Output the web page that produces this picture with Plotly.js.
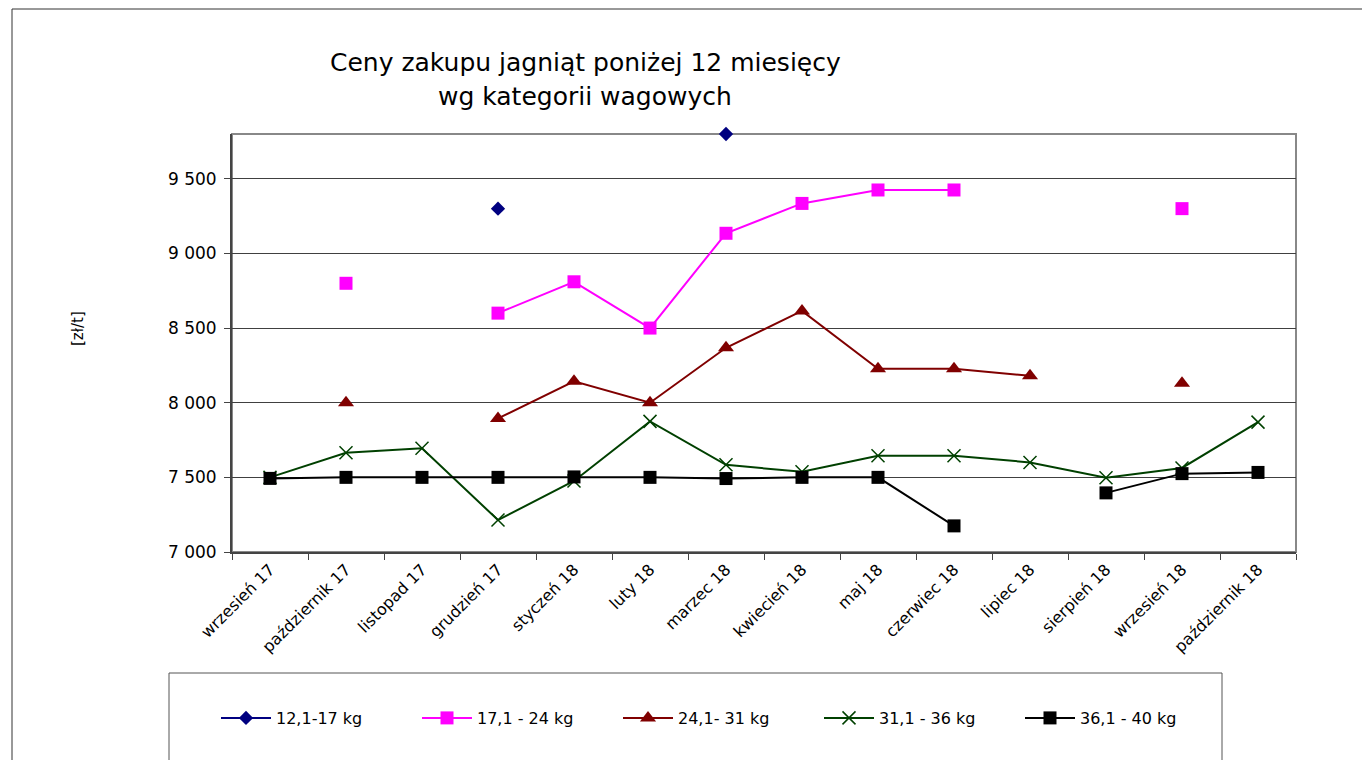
<!DOCTYPE html>
<html>
<head>
<meta charset="utf-8">
<script src="https://cdn.plot.ly/plotly-3.0.1.min.js"></script>
<style>
html,body{margin:0;padding:0;background:#fff;}
#chart{width:1362px;height:760px;}
</style>
</head>
<body>
<div id="chart"></div>
<script>
var categories = ["wrzesień 17","październik 17","listopad 17","grudzień 17","styczeń 18","luty 18","marzec 18","kwiecień 18","maj 18","czerwiec 18","lipiec 18","sierpień 18","wrzesień 18","październik 18"];

var seriesNames = ["12,1-17 kg","17,1 - 24 kg","24,1- 31 kg","31,1 - 36 kg","36,1 - 40 kg"];

var w12_17 = [null,null,null,9300,null,null,9800,null,null,null,null,null,null,null];
var w17_24 = [null,8800,null,8600,8810,8500,9135,9335,9425,9425,null,null,9300,null];
var w24_31 = [null,8000,null,7895,8143,8000,8368,8615,8228,8228,8180,null,8130,null];
var w31_36 = [7500,7665,7695,7214,7476,7875,7584,7537,7645,7645,7600,7498,7563,7870];
var w36_40 = [7493,7500,7500,7500,7503,7500,7492,7500,7500,7175,null,7396,7525,7533];

var yTitle = "[zł/t]";
var titleLine1 = "Ceny zakupu jagniąt poniżej 12 miesięcy";
var titleLine2 = "wg kategorii wagowych";

var FONT = "DejaVu Sans";

function mk(name, vals, color, symbol, size, extraMarker){
  var m = {color: color, symbol: symbol, size: size};
  if (extraMarker) { for (var k in extraMarker) m[k] = extraMarker[k]; }
  return {
    type: "scatter", mode: "lines+markers", name: name,
    x: categories, y: vals, connectgaps: false, cliponaxis: false,
    line: {color: color, width: 2},
    marker: m
  };
}

var traces = [
  mk(seriesNames[0], w12_17, "#000080", "diamond", 11),
  mk(seriesNames[1], w17_24, "#FF00FF", "square", 13),
  mk(seriesNames[2], w24_31, "#800000", "triangle-up", 14),
  mk(seriesNames[3], w31_36, "#004000", "x-thin", 13, {line: {color: "#004000", width: 1.5}}),
  mk(seriesNames[4], w36_40, "#000000", "square", 13)
];

var L = 232, R = 1296, T = 134, B = 552;
function px(x){ return (x - L) / (R - L); }
function py(y){ return (B - y) / (B - T); }

var layout = {
  width: 1362, height: 760,
  margin: {l: L, r: 1362 - R, t: T, b: 760 - B},
  paper_bgcolor: "#fff", plot_bgcolor: "#fff",
  separators: ", ",
  font: {family: FONT, size: 16, color: "#000"},
  showlegend: true,
  xaxis: {
    type: "category",
    range: [-0.5, 13.5],
    tickangle: -45,
    tickson: "boundaries",
    ticks: "outside", ticklen: 6, tickcolor: "#444", tickwidth: 1,
    showline: true, linecolor: "#444", linewidth: 2,
    showgrid: false, zeroline: false,
    tickfont: {family: FONT, size: 16, color: "#000"},
    fixedrange: true
  },
  yaxis: {
    range: [7000, 9800],
    tick0: 7000, dtick: 500,
    tickformat: ",d",
    ticks: "outside", ticklen: 6, tickcolor: "#444", tickwidth: 1,
    showline: true, linecolor: "#444", linewidth: 2,
    showgrid: true, gridcolor: "#404040", gridwidth: 1,
    zeroline: false,
    tickfont: {family: FONT, size: 17, color: "#000"},
    ticklabelstandoff: 4,
    fixedrange: true
  },
  legend: {
    orientation: "h",
    x: px(216), xanchor: "left",
    y: py(718), yanchor: "middle",
    font: {family: FONT, size: 16, color: "#000"},
    bgcolor: "rgba(0,0,0,0)",
    borderwidth: 0,
    itemwidth: 50,
    entrywidth: 136, entrywidthmode: "pixels",
    itemclick: false, itemdoubleclick: false
  },
  shapes: [
    {type: "rect", xref: "paper", yref: "paper", x0: 0, x1: 1, y0: 0, y1: 1,
     line: {color: "#888", width: 2}, layer: "below"},
    {type: "rect", xref: "paper", yref: "paper", x0: px(169), x1: px(1222), y0: py(673), y1: py(790),
     line: {color: "#555", width: 1}, fillcolor: "rgba(0,0,0,0)", layer: "below"},
    {type: "line", xref: "paper", yref: "paper", x0: px(12), x1: px(12), y0: py(9), y1: py(770),
     line: {color: "#333", width: 1}},
    {type: "line", xref: "paper", yref: "paper", x0: px(12), x1: px(1370), y0: py(9), y1: py(9),
     line: {color: "#333", width: 1}}
  ],
  annotations: [
    {xref: "paper", yref: "paper", x: px(585), y: py(62), text: titleLine1, showarrow: false,
     xanchor: "center", yanchor: "middle", font: {family: FONT, size: 25, color: "#000"}},
    {xref: "paper", yref: "paper", x: px(585), y: py(96), text: titleLine2, showarrow: false,
     xanchor: "center", yanchor: "middle", font: {family: FONT, size: 25, color: "#000"}},
    {xref: "paper", yref: "paper", x: px(78), y: py(329), text: yTitle, showarrow: false,
     textangle: -90, xanchor: "center", yanchor: "middle", font: {family: FONT, size: 15, color: "#000"}}
  ]
};

Plotly.newPlot("chart", traces, layout, {displayModeBar: false, staticPlot: true});
</script>
</body>
</html>
